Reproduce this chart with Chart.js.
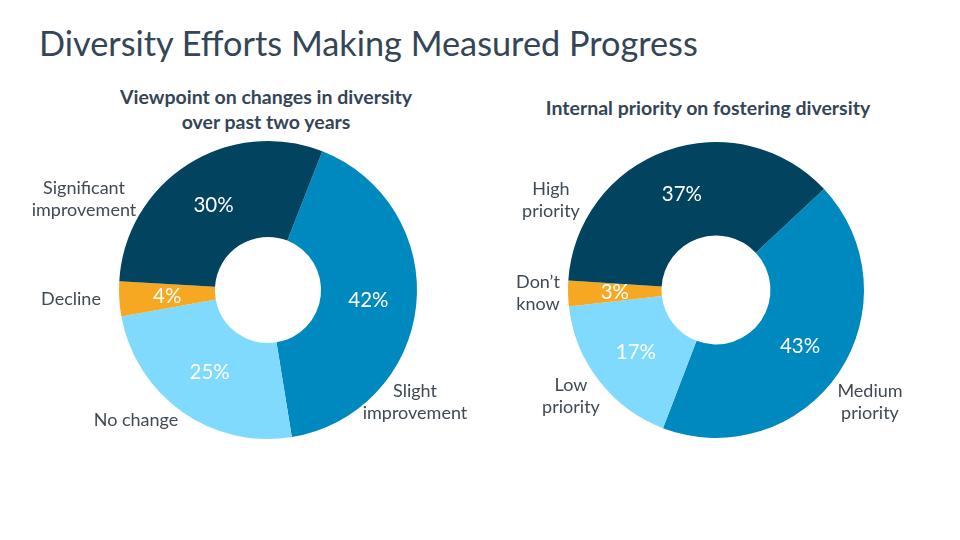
<!DOCTYPE html>
<html>
<head>
<meta charset="utf-8">
<script src="https://cdn.jsdelivr.net/npm/chart.js@4.4.1/dist/chart.umd.min.js"></script>
<style>
  html, body { margin: 0; padding: 0; background: #ffffff; }
  #stage { position: relative; width: 960px; height: 540px; overflow: hidden; font-family: Lato, "Open Sans", sans-serif; }
  #title { position: absolute; left: 39px; top: 23px; font-size: 34.3px; line-height: 40px; color: #344556; white-space: nowrap; }
  .sub { position: absolute; font-weight: bold; font-size: 19.5px; color: #344556; text-align: center; line-height: 25px; white-space: nowrap; }
  #sub1 { left: 66px; width: 400px; top: 84px; }
  #sub2 { left: 508px; width: 400px; top: 95px; }
  .wrap { position: absolute; top: 0; width: 480px; height: 540px; }
  canvas { position: absolute; top: 0; left: 0; }
</style>
</head>
<body>
<div id="stage">
  <div id="title">Diversity Efforts Making Measured Progress</div>
  <div class="sub" id="sub1">Viewpoint on changes in diversity<br>over past two years</div>
  <div class="sub" id="sub2">Internal priority on fostering diversity</div>
  <div class="wrap" style="left:0"><canvas id="c1"></canvas></div>
  <div class="wrap" style="left:480px"><canvas id="c2"></canvas></div>
</div>
<script>
// ---- Data ----
const changeCategories = [["Slight", "improvement"], ["No change"], ["Decline"], ["Significant", "improvement"]];
const changeValues = [41.5, 24.7, 3.8, 30.0];
const changeLabels = ["42%", "25%", "4%", "30%"];

const priorityCategories = [["Medium", "priority"], ["Low", "priority"], ["Don\u2019t", "know"], ["High", "priority"]];
const priorityValues = [42.8, 17.4, 2.8, 37.0];
const priorityLabels = ["43%", "17%", "3%", "37%"];

// ---- Styles ----
const sliceColors = ["#0089bf", "#80dafd", "#f6a823", "#02445f"];
const FONT = "Lato, 'Open Sans', sans-serif";

// offsets of outside category labels relative to the doughnut centre
const changeLabelOffsets = [[147, 112], [-132, 130], [-197, 9], [-184, -91]];
const priorityLabelOffsets = [[154, 112], [-145, 106], [-178, 3], [-165, -90]];

const labelPlugin = {
  id: 'sliceLabels',
  afterDatasetsDraw(chart, args, opts) {
    const ctx = chart.ctx;
    const meta = chart.getDatasetMeta(0);
    ctx.save();
    ctx.textAlign = 'center';
    ctx.textBaseline = 'middle';
    meta.data.forEach((arc, i) => {
      const p = arc.getProps(['x', 'y', 'startAngle', 'endAngle', 'innerRadius', 'outerRadius'], true);
      const mid = (p.startAngle + p.endAngle) / 2;
      const r = (p.innerRadius + p.outerRadius) / 2;
      ctx.fillStyle = '#ffffff';
      ctx.font = '20.5px ' + FONT;
      ctx.fillText(opts.pct[i], p.x + Math.cos(mid) * r, p.y + Math.sin(mid) * r);
      // category label
      const lines = chart.data.labels[i];
      const off = opts.offsets[i];
      const lh = 22.5;
      ctx.fillStyle = '#404a54';
      ctx.font = '18px ' + FONT;
      const y0 = p.y + off[1] - (lines.length - 1) * lh / 2;
      lines.forEach((ln, k) => ctx.fillText(ln, p.x + off[0], y0 + k * lh));
    });
    ctx.restore();
  }
};

function makeChart(id, cats, vals, pct, offsets, rotation, cutout, padding) {
  return new Chart(document.getElementById(id), {
    type: 'doughnut',
    data: {
      labels: cats,
      datasets: [{ data: vals, backgroundColor: sliceColors, borderWidth: 0 }]
    },
    options: {
      responsive: true,
      maintainAspectRatio: false,
      animation: false,
      rotation: rotation,
      cutout: cutout,
      layout: { padding: padding },
      plugins: {
        legend: { display: false },
        tooltip: { enabled: false },
        sliceLabels: { pct: pct, offsets: offsets }
      }
    },
    plugins: [labelPlugin]
  });
}

makeChart('c1', changeCategories, changeValues, changeLabels, changeLabelOffsets, 21.4, '35.6%',
  { left: 119, right: 63, top: 141, bottom: 101 });
makeChart('c2', priorityCategories, priorityValues, priorityLabels, priorityLabelOffsets, 46.9, '36.8%',
  { left: 88, right: 96, top: 142, bottom: 102 });
</script>
</body>
</html>
